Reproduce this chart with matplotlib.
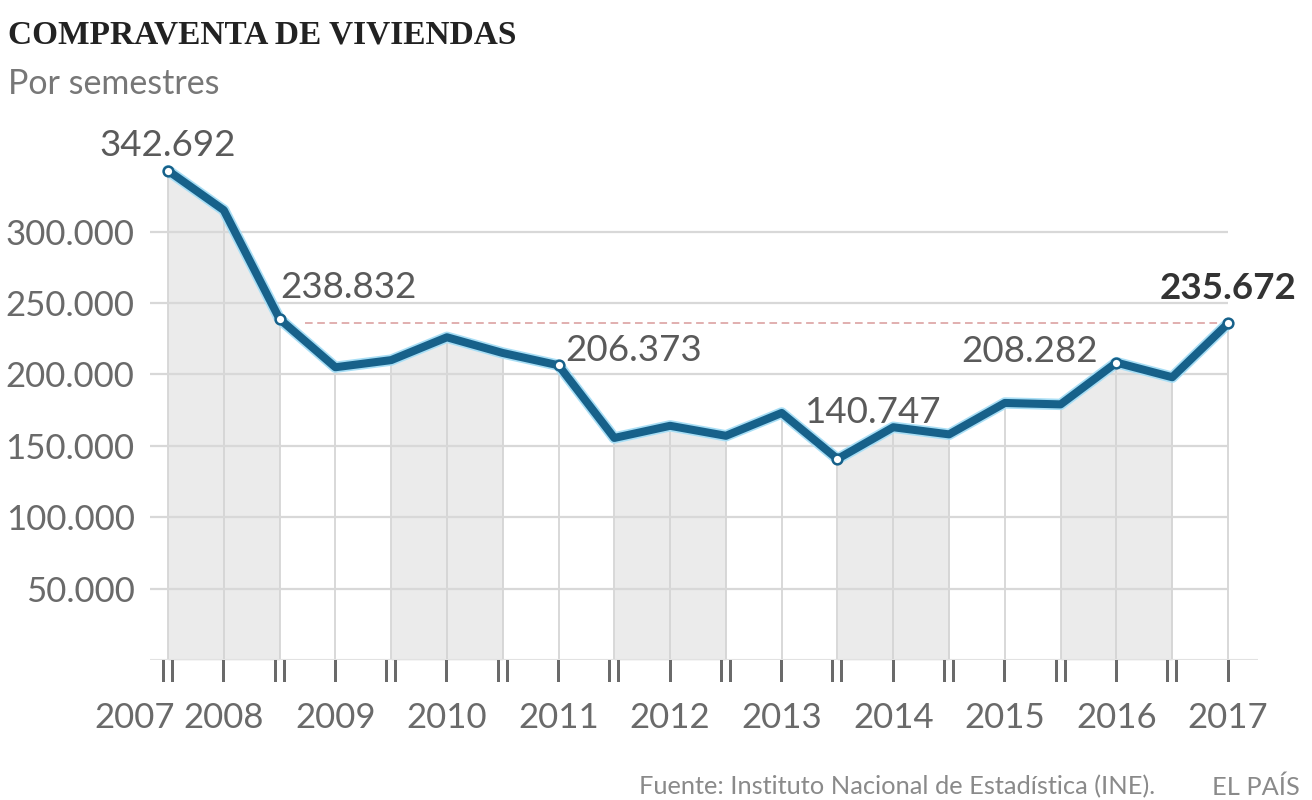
import matplotlib
matplotlib.use("Agg")
import matplotlib.pyplot as plt
import matplotlib.patheffects as pe
import numpy as np

# Compraventa de viviendas por semestres (INE), 2007-II a 2017-I
semestres = ['II', 'I', 'II', 'I', 'II', 'I', 'II', 'I', 'II', 'I',
             'II', 'I', 'II', 'I', 'II', 'I', 'II', 'I', 'II', 'I']
valores = [342692, 315000, 238832, 205000, 210000, 226000, 215000, 206373,
           155500, 164000, 157000, 173000, 140747, 163000, 158000, 180000,
           179000, 208282, 198000, 235672]
anios = ['2007', '2008', '2009', '2010', '2011', '2012',
         '2013', '2014', '2015', '2016', '2017']
# indices of the labelled points
destacados = [0, 2, 7, 12, 17, 19]
# semesters with grey fill under the curve
bandas = [(0, 2), (4, 6), (8, 10), (12, 14), (16, 18)]
yticks = [50000, 100000, 150000, 200000, 250000, 300000]

x = np.arange(len(valores))
v = np.array(valores)

LINE = '#17618a'
GRAY_TXT = '#6a6a6a'

plt.rcParams['font.family'] = ['Lato', 'DejaVu Sans']

fig = plt.figure(figsize=(13.12, 8), dpi=100)
ax = fig.add_axes([150 / 1312, 140 / 800, 1108 / 1312, 520 / 800])
x0 = (150 - 168) / 55.79
ax.set_xlim(x0, (1258 - 168) / 55.79)
ax.set_ylim(0, 520 / 1.428 * 1000)

for a, b in bandas:
    m = (x >= a) & (x <= b)
    ax.fill_between(x, 0, v, where=m, color='#ebebeb', lw=0, zorder=1)

ax.vlines(x, 0, v, color='#d2d2d2', lw=1.2, zorder=2)
ax.hlines(yticks, x0, x[-1], color='#d8d8d8', lw=1.6, zorder=2)
ax.axhline(0, color='#e2e2e2', lw=1.5, zorder=2)

ax.hlines(v[-1], 2.45, x[-1], color='#d99a9a', lw=1.1,
          linestyles=(0, (5, 3)), zorder=3)

ax.plot(x, v, color=LINE, lw=5.8, solid_joinstyle='round',
        solid_capstyle='round', zorder=4,
        path_effects=[pe.Stroke(linewidth=8.2, foreground='#a8def5'), pe.Normal()])
ax.plot(x[destacados], v[destacados], 'o', ms=7, mfc='white', mec=LINE,
        mew=1.8, zorder=5)

# value labels: offset in pixels, alignment
offs = {0: (0, 9, 'center', 'bottom'),
        2: (1, 15, 'left', 'bottom'),
        7: (7, 15, 'left', 'center'),
        12: (-33, 47, 'left', 'center'),
        17: (-19, 11, 'right', 'center'),
        19: (0, 35, 'center', 'center')}
for i in destacados:
    dx, dy, ha, va = offs[i]
    txt = f'{valores[i]:,}'.replace(',', '.')
    last = i == len(valores) - 1
    ax.annotate(txt, (x[i], v[i]), xytext=(dx, dy), textcoords='offset pixels',
                ha=ha, va=va, fontsize=26.5,
                color='#333333' if last else '#5a5a5a',
                fontweight='bold' if last else 'normal', zorder=6)

ax.set_yticks(yticks)
ax.set_yticklabels([f'{t:,}'.replace(',', '.') for t in yticks],
                   fontsize=25, color=GRAY_TXT)
ax.tick_params(axis='y', length=0, pad=11)
ax.set_xticks([])
for s in ax.spines.values():
    s.set_visible(False)

# semester marks and years under the axis
for i, s in enumerate(semestres):
    ax.text(x[i], -13 / 1.428 * 1000, s, ha='center', va='center',
            fontsize=22, color=GRAY_TXT, family='DejaVu Sans',
            clip_on=False)
pos_anios = [-0.6] + [i for i, s in enumerate(semestres) if s == 'I']
for p, a in zip(pos_anios, anios):
    ax.text(p, -58 / 1.428 * 1000, a, ha='center', va='center',
            fontsize=25, color=GRAY_TXT, clip_on=False)

fig.text(8 / 1312, 1 - 35 / 800, 'COMPRAVENTA DE VIVIENDAS', ha='left',
         va='center', fontsize=24, fontweight='bold', color='#222222',
         family='Liberation Serif')
fig.text(8 / 1312, 1 - 84 / 800, 'Por semestres', ha='left', va='center',
         fontsize=24.5, color='#777777')
fig.text(1155 / 1312, 1 - 787 / 800,
         'Fuente: Instituto Nacional de Estadística (INE).', ha='right',
         va='center', fontsize=18.3, color='#8a8a8a')
fig.text(1300 / 1312, 1 - 787 / 800, 'EL PAÍS', ha='right', va='center',
         fontsize=18.3, color='#8a8a8a')

fig.savefig('out.png', dpi=100, facecolor='white')
